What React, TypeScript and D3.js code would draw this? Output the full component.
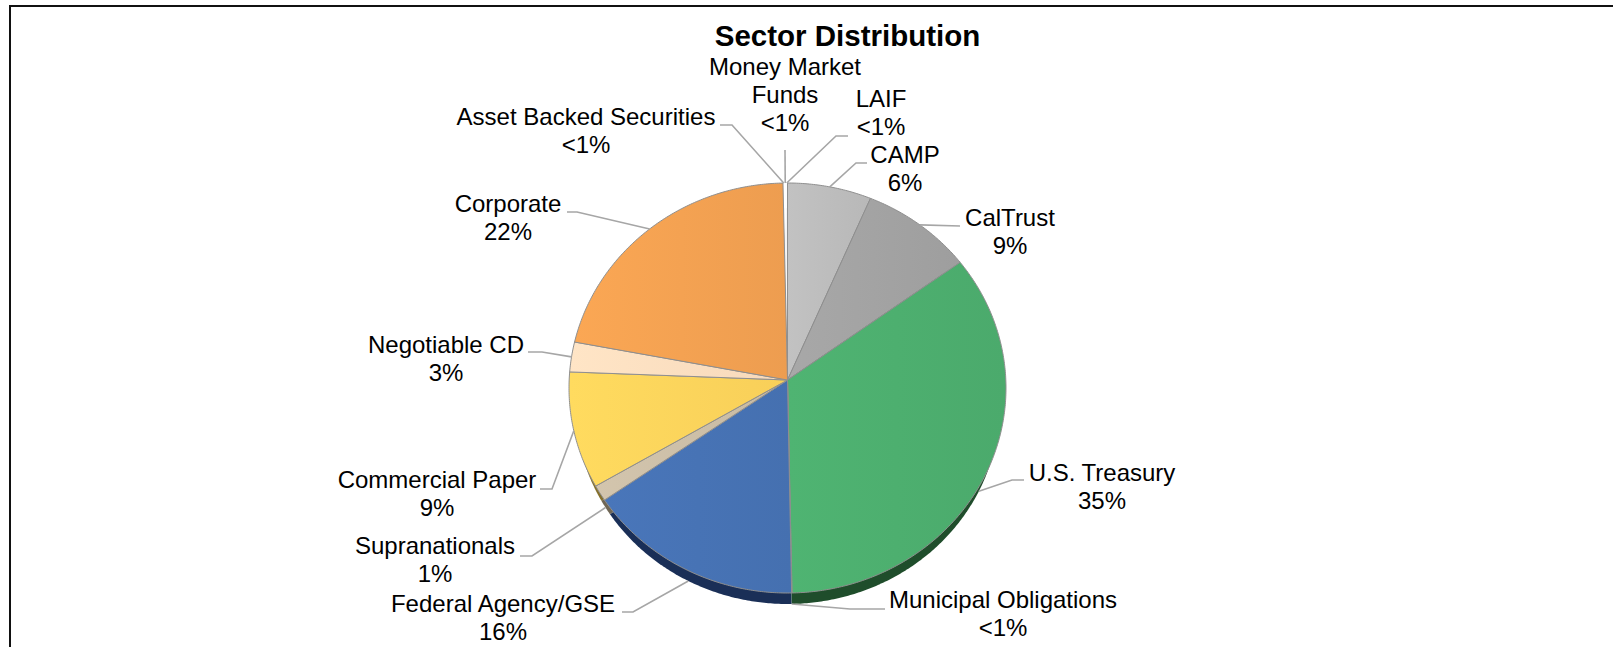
import * as d3 from 'd3';

// Slices clockwise, starting at the white slivers left of 12 o'clock.
const categories = [
  'Asset Backed Securities',
  'Money Market Funds',
  'LAIF',
  'CAMP',
  'CalTrust',
  'U.S. Treasury',
  'Municipal Obligations',
  'Federal Agency/GSE',
  'Supranationals',
  'Commercial Paper',
  'Negotiable CD',
  'Corporate',
];
// Share of the pie as drawn in the picture.
const shares = [0.11, 0.11, 0.11, 6.2, 8.3, 35.17, 0.03, 16.1, 1.26, 9.19, 2.35, 21.07];
const shareLabels = ['<1%', '<1%', '<1%', '6%', '9%', '35%', '<1%', '16%', '1%', '9%', '3%', '22%'];
const sliceColors = [
  '#ffffff', '#ffffff', '#ffffff', '#bdbdbd', '#a3a3a3', '#4daf6f',
  '#5b9bd5', '#4773b5', '#cdbfa8', '#ffd55c', '#fedfc0', '#f4a252',
];
const wallColors = [
  '#cccccc', '#cccccc', '#cccccc', '#666666', '#555555', '#1f4d2b',
  '#1f4d2b', '#1a2f57', '#6f6655', '#85702c', '#85705c', '#7d5228',
];

// Label placement: wrapped lines, centre x, first baseline, elbow of the leader.
const labelLines: string[][] = [
  ['Asset Backed Securities'],
  ['Money Market', 'Funds'],
  ['LAIF'],
  ['CAMP'],
  ['CalTrust'],
  ['U.S. Treasury'],
  ['Municipal Obligations'],
  ['Federal Agency/GSE'],
  ['Supranationals'],
  ['Commercial Paper'],
  ['Negotiable CD'],
  ['Corporate'],
];
const labelX = [586, 785, 881, 905, 1010, 1102, 1003, 503, 435, 437, 446, 508];
const labelY = [125, 75, 107, 163, 226, 481, 608, 612, 554, 488, 353, 212];
const leaderStart: [number, number][] = [
  [720, 125], [785, 150], [848, 136], [867, 163], [960, 226], [1024, 480],
  [885, 609], [622, 612], [520, 556], [540, 489], [528, 352], [567, 212],
];
const leaderElbow: ([number, number] | null)[] = [
  [732, 125], null, [836, 136], [856, 163], null, [1012, 480],
  [850, 609], [633, 612], [532, 556], [552, 489], [542, 352], [577, 212],
];

const width = 1613;
const height = 647;
const fontFamily = '"Liberation Sans", Arial, sans-serif';

// Face and bottom rim of the tilted pie, as ellipses with an off-centre apex.
const face = { cx: 787.5, cy: 388, rx: 218.5, ry: 205, apexY: 380 };
const wall = { cx: 787.5, cy: 406, rx: 212, ry: 198, apexY: 391 };
type Rim = typeof face;

const rimPoint = (rim: Rim, a: number): [number, number] => [
  rim.cx + rim.rx * Math.sin(a),
  rim.cy - rim.ry * Math.cos(a),
];

const line = d3.line<[number, number]>();

function wedgePath(rim: Rim, a0: number, a1: number) {
  const steps = Math.max(2, Math.ceil((a1 - a0) / 0.01));
  const rimPts = d3.range(steps + 1).map((i) => rimPoint(rim, a0 + ((a1 - a0) * i) / steps));
  return `${line([[rim.cx, rim.apexY], ...rimPts])}Z`;
}

const startAngle = -((0.33 / 100) * 2 * Math.PI);
const slices = d3
  .pie<number>()
  .sort(null)
  .startAngle(startAngle)
  .endAngle(startAngle + 2 * Math.PI)(shares);

// Leaders of the lower slices end on the bottom rim, the others on the face.
function leaderTip(midAngle: number) {
  const lower = midAngle > Math.PI / 2 && midAngle < (245 / 180) * Math.PI;
  return rimPoint(lower ? wall : face, midAngle);
}

export default function App() {
  return (
    <svg
      width={width}
      height={height}
      style={{ position: 'absolute', left: 0, top: 0, display: 'block', background: '#fff' }}
    >
      <defs>
        {slices.map((s, i) => (
          <linearGradient key={i} id={`slice-${i}`} x1="0" y1="0" x2="1" y2="0">
            <stop offset="0" stopColor={d3.color(sliceColors[s.index])!.brighter(0.08).formatHex()} />
            <stop offset="1" stopColor={d3.color(sliceColors[s.index])!.darker(0.08).formatHex()} />
          </linearGradient>
        ))}
      </defs>

      <path d={`M10,${height}V6H${width}`} fill="none" stroke="#111" strokeWidth={2} />

      <text
        x={847.5}
        y={45.5}
        textAnchor="middle"
        fontFamily={fontFamily}
        fontSize={29.5}
        fontWeight={700}
        fill="#000"
      >
        Sector Distribution
      </text>

      {/* side wall first, the face is painted over it */}
      {slices.map((s, i) => (
        <path key={i} d={wedgePath(wall, s.startAngle, s.endAngle)} fill={wallColors[i]} />
      ))}
      {slices.map((s, i) => (
        <path
          key={i}
          d={wedgePath(face, s.startAngle, s.endAngle)}
          fill={sliceColors[i] === '#ffffff' ? '#ffffff' : `url(#slice-${i})`}
          stroke={sliceColors[i] === '#ffffff' ? 'none' : '#8f8f8f'}
          strokeWidth={1}
          strokeLinejoin="round"
        />
      ))}

      {slices.map((s, i) => {
        const elbow = leaderElbow[i];
        const pts: [number, number][] = [leaderStart[i]];
        if (elbow) pts.push(elbow);
        pts.push(leaderTip((s.startAngle + s.endAngle) / 2));
        return <path key={i} d={line(pts)!} fill="none" stroke="#a6a6a6" strokeWidth={1.6} />;
      })}

      {categories.map((c, i) => (
        <text key={c} textAnchor="middle" fontFamily={fontFamily} fontSize={24} fill="#000">
          {[...labelLines[i], shareLabels[i]].map((t, j) => (
            <tspan key={j} x={labelX[i]} y={labelY[i] + j * 28}>
              {t}
            </tspan>
          ))}
        </text>
      ))}
    </svg>
  );
}
